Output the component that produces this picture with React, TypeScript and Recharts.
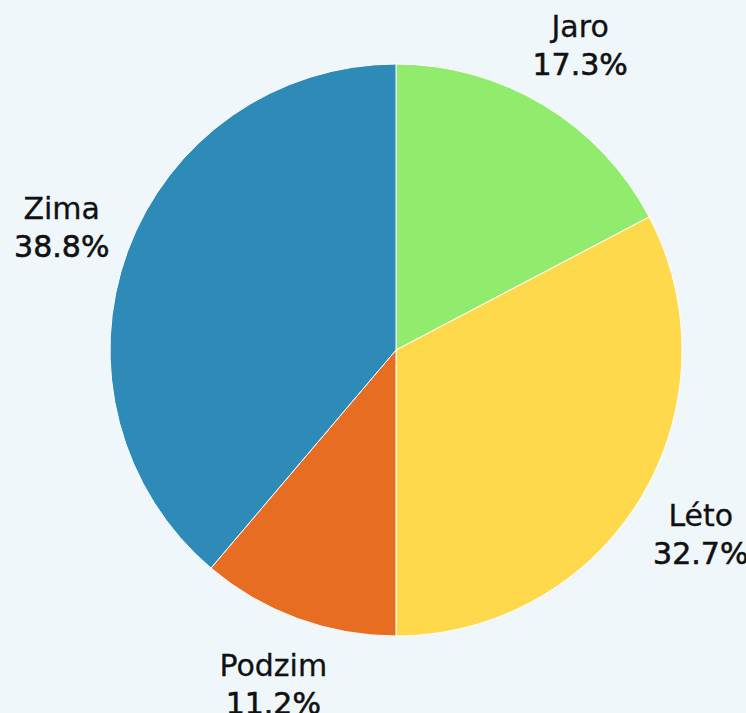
import React from 'react'
import { PieChart, Pie, Cell } from 'recharts'

const seasons = ['Jaro', 'Léto', 'Podzim', 'Zima']
const shares = [17.3, 32.7, 11.2, 38.8]
const colors = ['#91EC6E', '#FFD94C', '#E76D22', '#2E8BB8']

const data = seasons.map((name, i) => ({ name, value: shares[i] }))

const RADIAN = Math.PI / 180

const renderLabel = (props: any) => {
  const { cx, cy, midAngle, outerRadius, index } = props
  const r = outerRadius * 1.245
  const x = cx + r * Math.cos(-midAngle * RADIAN)
  const y = cy + r * Math.sin(-midAngle * RADIAN)
  return (
    <g>
      <text
        x={x}
        y={y - 19 + 10.8}
        textAnchor="middle"
        fontSize={30}
        fill="#111"
        stroke="#111"
        strokeWidth={0.3}
      >
        {seasons[index]}
      </text>
      <text
        x={x}
        y={y + 19 + 10.8}
        textAnchor="middle"
        fontSize={30}
        fill="#111"
        stroke="#111"
        strokeWidth={0.6}
      >
        {shares[index].toFixed(1)}%
      </text>
    </g>
  )
}

const App = () => {
  return (
    <div
      style={{
        position: 'absolute',
        left: 0,
        top: 0,
        width: 746,
        height: 713,
        background: '#EFF7FA',
        fontFamily: 'DejaVu Sans',
      }}
    >
      <PieChart width={746} height={713} margin={{ top: 0, right: 0, bottom: 0, left: 0 }}>
        <Pie
          data={data}
          dataKey="value"
          nameKey="name"
          cx={396}
          cy={350}
          outerRadius={286}
          startAngle={90}
          endAngle={-270}
          stroke="#ffffff"
          strokeWidth={1}
          label={renderLabel}
          labelLine={false}
          isAnimationActive={false}
        >
          {data.map((d, i) => (
            <Cell key={d.name} fill={colors[i]} />
          ))}
        </Pie>
      </PieChart>
    </div>
  )
}

export default App
